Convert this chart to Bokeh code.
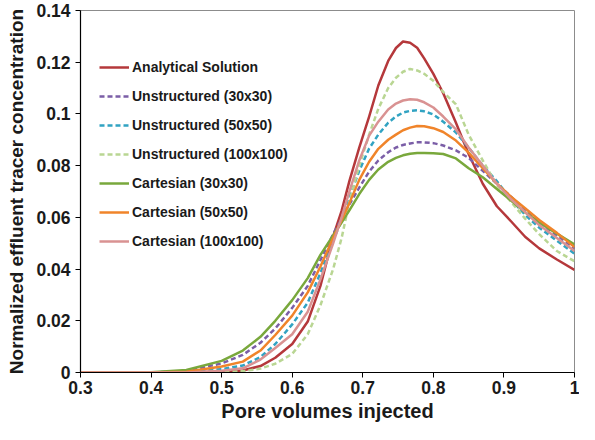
from bokeh.plotting import figure
from bokeh.models import FixedTicker, Legend, LegendItem, Range1d
from bokeh.embed import file_html
from bokeh.resources import INLINE

# Pore volumes injected (shared x grid)
x = [0.3, 0.4, 0.45, 0.5, 0.53, 0.555, 0.576, 0.6, 0.622, 0.64, 0.658, 0.67, 0.681,
     0.695, 0.709, 0.722, 0.736, 0.747, 0.757, 0.767, 0.777, 0.787, 0.8, 0.814, 0.832,
     0.85, 0.87, 0.89, 0.91, 0.93, 0.95, 0.975, 1.0]

analytical = [0, 0, 0.0001, 0.0003, 0.0008, 0.0025, 0.0057, 0.011, 0.0197, 0.0335, 0.0526,
              0.0625, 0.074, 0.087, 0.099, 0.111, 0.1205, 0.1255, 0.128, 0.1275, 0.1256,
              0.1215, 0.1155, 0.108, 0.0966, 0.0845, 0.073, 0.0643, 0.0585, 0.0525, 0.048,
              0.0437, 0.0397]
uns30 = [0, 0, 0.0006, 0.0035, 0.0068, 0.0115, 0.017, 0.025, 0.0335, 0.0435, 0.0535,
         0.0595, 0.065, 0.0715, 0.0777, 0.082, 0.0852, 0.087, 0.088, 0.0886, 0.089, 0.089,
         0.0887, 0.0878, 0.0859, 0.083, 0.078, 0.073, 0.068, 0.063, 0.058, 0.053, 0.048]
uns50 = [0, 0, 0.0001, 0.0013, 0.0027, 0.006, 0.011, 0.0186, 0.027, 0.0385, 0.051,
         0.059, 0.0677, 0.078, 0.0866, 0.092, 0.0966, 0.099, 0.1005, 0.1012, 0.1014, 0.101,
         0.0998, 0.097, 0.0928, 0.087, 0.080, 0.074, 0.067, 0.061, 0.056, 0.051, 0.046]
uns100 = [0, 0, 0, 0.0002, 0.0005, 0.0015, 0.0034, 0.0072, 0.0148, 0.026, 0.040,
          0.052, 0.066, 0.080, 0.092, 0.102, 0.110, 0.114, 0.1163, 0.1174, 0.1168, 0.1155,
          0.1128, 0.1085, 0.1037, 0.092, 0.082, 0.0725, 0.066, 0.0595, 0.0535, 0.047, 0.043]
cart30 = [0, 0.0001, 0.001, 0.0045, 0.0085, 0.0138, 0.0200, 0.028, 0.0365, 0.0455, 0.053,
          0.058, 0.0627, 0.069, 0.0745, 0.0785, 0.0815, 0.083, 0.084, 0.0846, 0.0849,
          0.0849, 0.0848, 0.0845, 0.0828, 0.079, 0.0755, 0.071, 0.0665, 0.062, 0.058,
          0.0537, 0.0495]
cart50 = [0, 0, 0.0003, 0.0023, 0.0042, 0.0085, 0.0145, 0.022, 0.031, 0.041, 0.052,
          0.059, 0.0655, 0.0745, 0.0815, 0.0865, 0.090, 0.092, 0.0937, 0.0947, 0.0953, 0.0952,
          0.0945, 0.093, 0.0897, 0.085, 0.079, 0.073, 0.068, 0.0635, 0.059, 0.054, 0.0485]
cart100 = [0, 0, 0, 0.0007, 0.0016, 0.005, 0.0095, 0.0148, 0.0235, 0.036, 0.050,
           0.060, 0.070, 0.082, 0.0916, 0.097, 0.1017, 0.104, 0.1052, 0.1057, 0.1055,
           0.1045, 0.1025, 0.099, 0.094, 0.087, 0.080, 0.073, 0.067, 0.062, 0.057, 0.052,
           0.047]

labels = ["Analytical Solution", "Unstructured (30x30)", "Unstructured (50x50)",
          "Unstructured (100x100)", "Cartesian (30x30)", "Cartesian (50x50)",
          "Cartesian (100x100)"]

x_ticks = [0.3, 0.4, 0.5, 0.6, 0.7, 0.8, 0.9, 1.0]
x_tick_labels = ["0.3", "0.4", "0.5", "0.6", "0.7", "0.8", "0.9", "1"]
y_ticks = [0, 0.02, 0.04, 0.06, 0.08, 0.1, 0.12, 0.14]
y_tick_labels = ["0", "0.02", "0.04", "0.06", "0.08", "0.1", "0.12", "0.14"]

FONT = "Liberation Sans"

p = figure(width=579, height=424, output_backend="svg", toolbar_location=None,
           x_range=Range1d(0.3, 1.0), y_range=Range1d(0, 0.14),
           min_border_left=80, min_border_right=5, min_border_top=10, min_border_bottom=52)
p.xgrid.visible = False
p.ygrid.visible = False
p.outline_line_color = "#8c8c8c"
p.outline_line_width = 1

series = [
    (analytical, "#B5383B", "solid"),
    (uns30, "#7B5EA7", "5 3"),
    (uns50, "#31A3C2", "5 3"),
    (uns100, "#B9D693", "5 3"),
    (cart30, "#79A83C", "solid"),
    (cart50, "#F0842A", "solid"),
    (cart100, "#D99292", "solid"),
]

items = []
for (ys, col, dash), lab in zip(series, labels):
    r = p.line(x, ys, line_color=col, line_width=2.5, line_dash=dash,
               line_join="round")
    items.append(LegendItem(label=lab, renderers=[r]))

legend = Legend(items=items, location=(19, 121), border_line_color=None,
                background_fill_alpha=0, glyph_width=30, glyph_height=20,
                label_height=20, spacing=9, padding=0, label_standoff=3,
                label_text_font=FONT, label_text_font_style="bold",
                label_text_font_size="14px", label_text_color="#1a1a1a")
p.add_layout(legend)

for ax in (p.xaxis[0], p.yaxis[0]):
    ax.axis_line_color = "black"
    ax.axis_line_width = 1.2
    ax.major_tick_line_color = "black"
    ax.major_tick_out = 5
    ax.major_tick_in = 0
    ax.minor_tick_line_color = None
    ax.major_label_text_font = FONT
    ax.major_label_text_font_style = "bold"
    ax.major_label_text_font_size = "17.5px"
    ax.major_label_text_color = "#1a1a1a"
    ax.axis_label_text_font = FONT
    ax.axis_label_text_font_style = "bold"
    ax.axis_label_text_color = "#1a1a1a"

p.xaxis.axis_label_text_font_size = "20px"
p.yaxis.axis_label_text_font_size = "19px"
p.xaxis.ticker = FixedTicker(ticks=x_ticks)
p.yaxis.ticker = FixedTicker(ticks=y_ticks)
p.xaxis.major_label_overrides = dict(zip(x_ticks, x_tick_labels))
p.yaxis.major_label_overrides = dict(zip(y_ticks, y_tick_labels))
p.xaxis.axis_label = "Pore volumes injected"
p.yaxis.axis_label = "Normalized effluent tracer concentration"
p.xaxis.major_label_standoff = 3
p.yaxis.major_label_standoff = 5
p.xaxis.axis_label_standoff = 3
p.yaxis.axis_label_standoff = 6

open("out.html", "w").write(file_html(p, INLINE))
